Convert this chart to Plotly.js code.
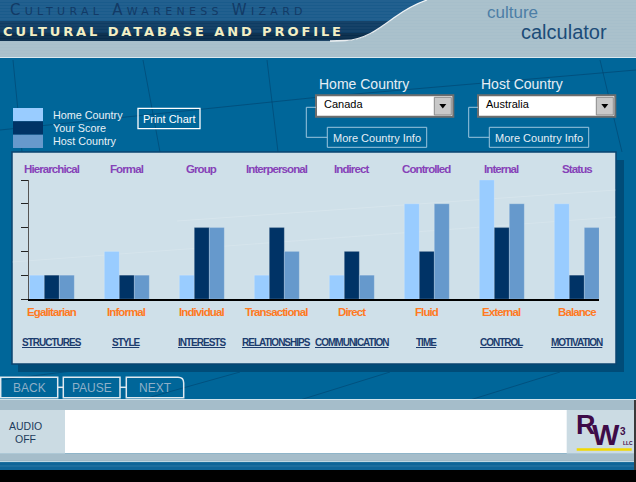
<!DOCTYPE html>
<html>
<head>
<meta charset="utf-8">
<script src="https://cdn.plot.ly/plotly-3.0.1.min.js"></script>
<style>
html,body{margin:0;padding:0;background:#000;overflow:hidden}
#chart{width:636px;height:482px}
</style>
</head>
<body>
<div id="chart"></div>
<script>
// ---------- data ----------
const dimensions   = ['STRUCTURES','STYLE','INTERESTS','RELATIONSHIPS','COMMUNICATION','TIME','CONTROL','MOTIVATION'];
const topLabels    = ['Hierarchical','Formal','Group','Interpersonal','Indirect','Controlled','Internal','Status'];
const bottomLabels = ['Egalitarian','Informal','Individual','Transactional','Direct','Fluid','External','Balance'];
const seriesNames  = ['Home Country','Your Score','Host Country'];
const homeValues   = [1,2,1,1,1,4,5,4];
const yourValues   = [1,1,3,3,2,2,3,1];
const hostValues   = [1,1,3,2,1,4,4,3];
const levelTicks   = [0,1,2,3,4,5];
const homeCountry  = 'Canada';
const hostCountry  = 'Australia';

// ---------- geometry helpers (pixel -> paper) ----------
const L = 29, R = 599, T = 180, B = 299;
const px = x => (x - L) / (R - L);
const py = y => (B - y) / (B - T);
const seriesColors = ['#99ccff','#003366','#6699cc'];

const shapes = [];
const ann = [];
function rect(x0,y0,x1,y1,fill,lineColor,lw){
  shapes.push({type:'rect',xref:'paper',yref:'paper',layer:'below',
    x0:px(x0),x1:px(x1),y0:py(y1),y1:py(y0),
    fillcolor:fill||'rgba(0,0,0,0)',
    line:{color:lineColor||'rgba(0,0,0,0)',width:lineColor?(lw||1):0}});
}
function seg(x0,y0,x1,y1,color,w){
  shapes.push({type:'line',xref:'paper',yref:'paper',layer:'below',
    x0:px(x0),x1:px(x1),y0:py(y0),y1:py(y1),line:{color:color,width:w||1}});
}
function toPaper(d){
  let i=0;
  return d.replace(/-?\d+(\.\d+)?/g,m=>{const v=parseFloat(m);const r=(i%2===0)?px(v):py(v);i++;return r.toFixed(5);});
}
function path(d,fill,lineColor,lw){
  shapes.push({type:'path',xref:'paper',yref:'paper',layer:'below',path:toPaper(d),
    fillcolor:fill||'rgba(0,0,0,0)',
    line:{color:lineColor||'rgba(0,0,0,0)',width:lineColor?(lw||1):0}});
}
function txt(t,x,y,size,color,opt){
  opt=opt||{};
  ann.push({xref:'paper',yref:'paper',x:px(x),y:py(y),text:t,showarrow:false,
    xanchor:opt.xa||'center',yanchor:'middle',
    font:{family:opt.family||'Liberation Sans, Arial, sans-serif',size:size,color:color,weight:opt.weight||'normal'}});
}
const tight = (s,ls) => '<span style="letter-spacing:'+ls+'px">'+s+'</span>';

// ---------- header ----------
rect(0,0,636,57,'#a7bfcb');
path('M 0 0 L 427 0 C 415 4 405 10 395 17 C 380 28 365 40 345 40.5 L 0 41 Z','#1a5b8b');
path('M 0 21 L 390 21 C 377 30 364 40 345 40.5 L 0 41 Z','#0e3c63');
path('M 0 33 L 372 33 C 362 38 354 40.5 345 40.5 L 0 41 Z','#082c4b');
for(let y=1;y<57;y+=3){ seg(0,y,636,y,'rgba(255,255,255,0.07)',1); }
path('M 330 41 L 345 40.5 C 365 40 380 28 395 17 C 405 10 415 4 427 0','', 'rgba(255,255,255,0.9)',1.3);
seg(0,57.5,636,57.5,'rgba(255,255,255,0.85)',1);

// ---------- faint globe lines on main background ----------
const gl='rgba(0,55,95,0.45)';
seg(13,60,22,152,gl,1); seg(143,60,160,152,gl,1); seg(267,60,278,152,gl,1);
seg(0,130,320,97,gl,1); seg(320,97,636,70,gl,1);
seg(600,60,622,152,gl,1);
seg(140,400,240,372,gl,1); seg(300,400,390,372,gl,1); seg(470,400,560,372,gl,1);
seg(0,380,80,370,gl,1);

// ---------- legend ----------
const legY=[[108,121.3],[121.3,134.7],[134.7,148]];
seriesNames.forEach((n,i)=>{
  rect(13,legY[i][0],43,legY[i][1],seriesColors[i]);
  txt(n,51,(legY[i][0]+legY[i][1])/2,10.8,'#e8f0f6',{xa:'left'});
});

// Print Chart button
rect(138,108.3,200,128.7,'','#ffffff',1.3);
txt('Print Chart',169,118.5,11,'#ffffff');

// ---------- country selectors ----------
function selector(label,value,x0,x1,connX,btnX0,btnX1){
  txt(label,x0+1,84,14,'#e6eef5',{xa:'left'});
  rect(x0,95.3,x1,116.7,'#ffffff','#6e6e6e',2);
  rect(x1-19,97.3,x1-2,115,'#c8c8c8','#8a8a8a',1);
  const cx=x1-10.5;
  path(`M ${cx-3.5} 104 L ${cx+3.5} 104 L ${cx} 108.5 Z`,'#000000');
  txt(value,x0+6,104,11,'#000000',{xa:'left'});
  const lc='#9cc6de';
  seg(connX,107.3,x0,107.3,lc,1);
  seg(connX,107.3,connX,137.3,lc,1);
  seg(connX,137.3,btnX0,137.3,lc,1);
  rect(btnX0,127.3,btnX1,147.3,'',lc,1);
  txt('More Country Info',(btnX0+btnX1)/2,137.5,11,'#e6eef5');
}
selector('Home Country',homeCountry,316,453.3,306.3,327.3,426.7);
selector('Host Country',hostCountry,478,615.3,468.7,489.3,588.7);

// ---------- chart panel ----------
rect(18,160,624,372,'#004c78');
rect(12,152,616,364,'#cfe0e9','#0a4470',1.5);
seg(177,221,616,190,'rgba(255,255,255,0.16)',1);
seg(12,262,616,217,'rgba(255,255,255,0.14)',1);

// ---------- nav buttons ----------
const navC='#dfe9f0', navT='#8fb0c8';
rect(0.7,377.3,57.7,397.7,'',navC,1.5);
rect(63.3,377.3,120,397.7,'',navC,1.5);
path('M 126.3 377.3 L 178 377.3 Q 183.7 377.3 183.7 383 L 183.7 397.7 L 126.3 397.7 Z','',navC,1.5);
seg(57.7,387.3,63.3,387.3,navC,1.5);
seg(120,387.3,126.3,387.3,navC,1.5);
txt('BACK',29,387.8,12,navT);
txt('PAUSE',91.7,387.8,12,navT);
txt('NEXT',155,387.8,12,navT);

// ---------- footer ----------
seg(0,399.6,636,399.6,'rgba(255,255,255,0.9)',1);
rect(0,400,636,410,'#9db7c5');
rect(0,410,636,453.5,'#ffffff');
rect(0,453.5,636,461.5,'#9db7c5');
for(let y=401;y<461;y+=2){ if(y<410||y>454) seg(0,y,636,y,'rgba(255,255,255,0.18)',1); }
seg(0,461.8,636,461.8,'rgba(255,255,255,0.9)',1);
rect(0,462.3,636,470,'#0e6497');
seg(0,466,636,466,'rgba(255,255,255,0.12)',1);
rect(0,470,636,482,'#000000');
rect(634,400,636,470,'#3a3a3a');
rect(0,410,65,453.5,'#cbdbe3');
rect(566.7,410,634,453.5,'#cbdbe3');
rect(576.7,448.3,631.7,450.7,'#f2d900');
txt('AUDIO',25,425.8,10.5,'#1d3b5c');
txt('OFF',25,438.8,10.5,'#1d3b5c');
const sans='Liberation Sans, Arial, sans-serif';
txt(tight('R',-1),585.3,425,27,'#3e0b48',{family:sans,weight:'bold'});
txt(tight('W',-1),605.5,434.5,29,'#3e0b48',{family:sans,weight:'bold'});
txt('3',623,431.3,10,'#3e0b48',{family:sans,weight:'bold'});
txt('LLC',627.5,442.8,5,'#3e0b48',{family:sans,weight:'bold'});

// ---------- header text ----------
txt('<span style="font-variant:small-caps;letter-spacing:4.3px">Cultural Awareness Wizard</span>',8,9.5,15,'#123a66',{xa:'left',family:'DejaVu Sans, sans-serif'});
txt('<span style="letter-spacing:2.9px">CULTURAL DATABASE AND PROFILE</span>',1,31,13,'#f3efc4',{xa:'left',family:'DejaVu Sans, sans-serif',weight:'bold'});
txt('culture',485,12.7,17,'#4d7ea6',{xa:'left'});
txt('calculator',519,31.7,20,'#1c4c78',{xa:'left'});

// ---------- category labels ----------
dimensions.forEach((d,i)=>{
  ann.push({xref:'x',yref:'paper',x:d,y:py(169),text:'<b>'+tight(topLabels[i],-0.9)+'</b>',showarrow:false,xanchor:'center',yanchor:'middle',
    font:{family:sans,size:11.5,color:'#8642b8',weight:'bold'}});
  ann.push({xref:'x',yref:'paper',x:d,y:py(312),text:'<b>'+tight(bottomLabels[i],-0.9)+'</b>',showarrow:false,xanchor:'center',yanchor:'middle',
    font:{family:sans,size:11.5,color:'#ff7a1f',weight:'bold'}});
  ann.push({xref:'x',yref:'paper',x:d,y:py(342.5),text:'<b>'+tight(d,-1.0)+'</b>',showarrow:false,xanchor:'center',yanchor:'middle',
    font:{family:sans,size:10,color:'#1c3c6e',weight:'bold',lineposition:'under'}});
});

// ---------- traces ----------
const values=[homeValues,yourValues,hostValues];
const traces = seriesNames.map((n,i)=>({
  type:'bar', name:n, x:dimensions, y:values[i],
  marker:{color:seriesColors[i], line:{color:'rgba(255,255,255,0.18)',width:1}},
  hoverinfo:'skip'
}));

const layout = {
  width:636, height:482,
  margin:{l:L, r:636-R, t:T, b:482-B, pad:0},
  paper_bgcolor:'#006699', plot_bgcolor:'rgba(0,0,0,0)',
  showlegend:false,
  barmode:'group', bargap:0.4, bargroupgap:0,
  xaxis:{type:'category', categoryorder:'array', categoryarray:dimensions, range:[-0.304,7.296],
    showticklabels:false, ticks:'', showline:true, linecolor:'#000000', linewidth:1.5,
    showgrid:false, zeroline:false, fixedrange:true},
  yaxis:{range:[0,5], tickvals:levelTicks, showticklabels:false, ticks:'outside', ticklen:7,
    tickwidth:1, tickcolor:'#222222', showline:true, linecolor:'#555555', linewidth:1,
    showgrid:false, zeroline:false, fixedrange:true},
  shapes:shapes, annotations:ann
};
Plotly.newPlot('chart', traces, layout, {staticPlot:true, displayModeBar:false});
</script>
</body>
</html>
